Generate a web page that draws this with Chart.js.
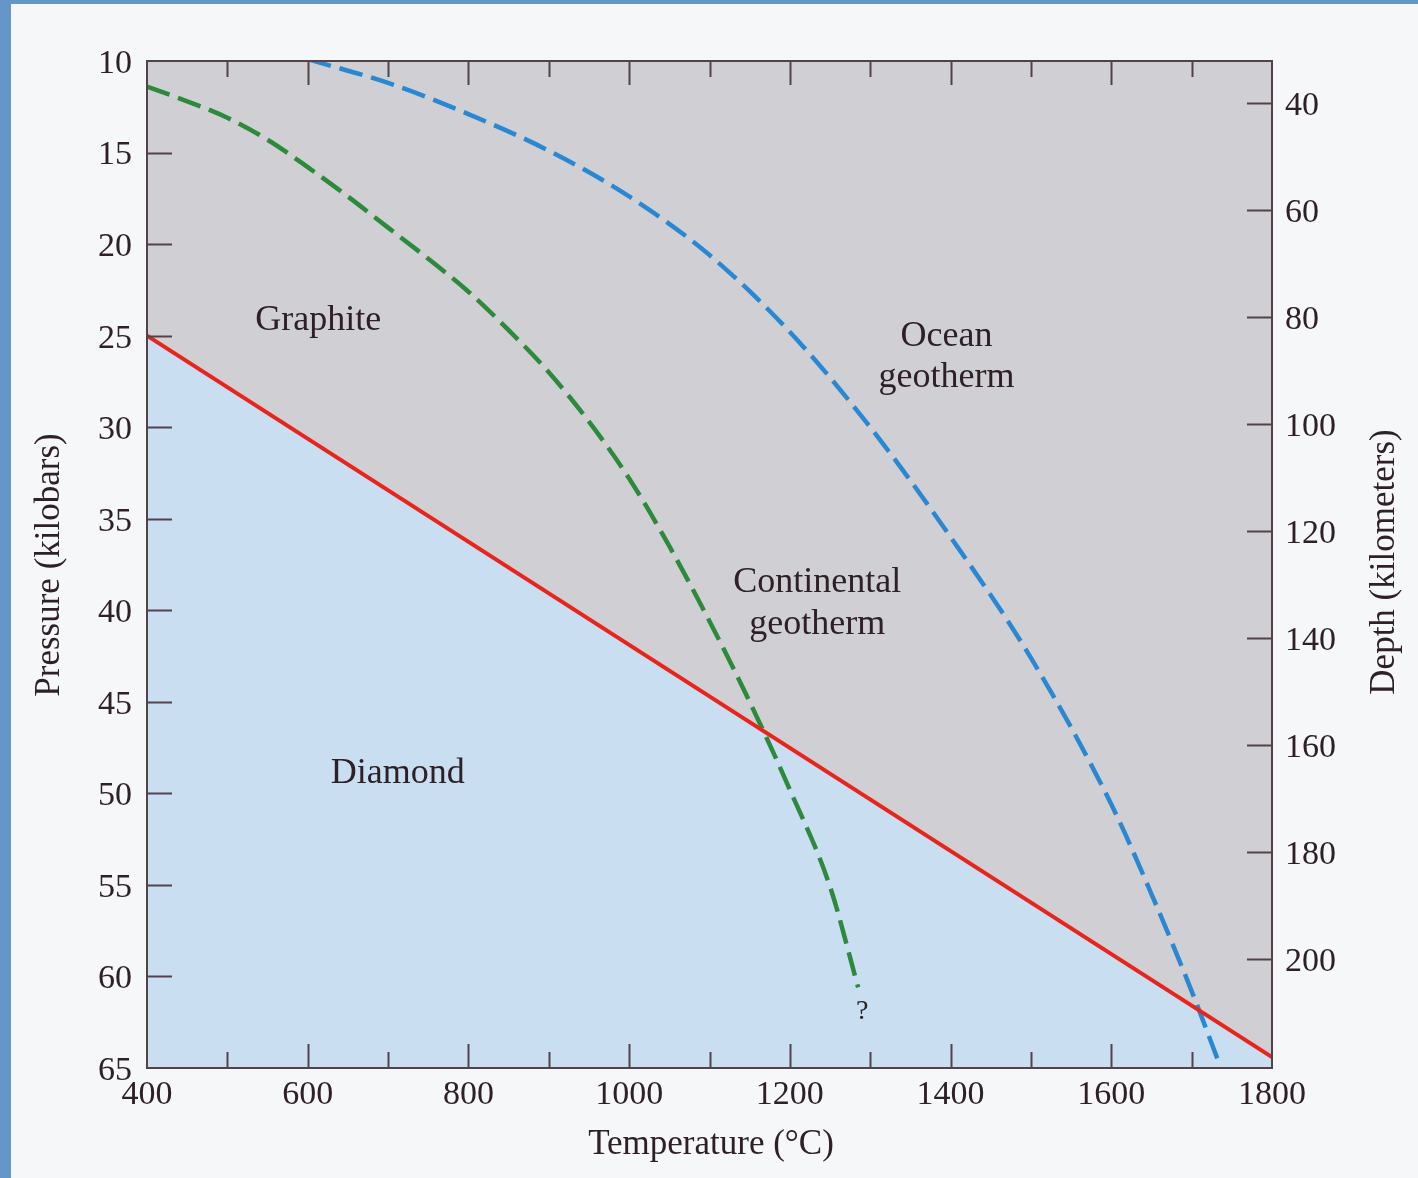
<!DOCTYPE html>
<html>
<head>
<meta charset="utf-8">
<script src="https://cdn.jsdelivr.net/npm/chart.js@4.4.0/dist/chart.umd.min.js"></script>
<style>
  html, body { margin: 0; padding: 0; background: #f6f7f9; }
  canvas { display: block; }
</style>
</head>
<body>
<canvas id="phaseChart" width="1418" height="1178"></canvas>
<script>
// axis ranges and ticks
const tempMin = 400, tempMax = 1800;
const pressureMin = 10, pressureMax = 65;
const depthMin = 32.2, depthMax = 220.4;
const pressureTicks = [10, 15, 20, 25, 30, 35, 40, 45, 50, 55, 60, 65];
const depthTicks = [40, 60, 80, 100, 120, 140, 160, 180, 200];

// graphite / diamond boundary
const boundaryT = [400, 1800];
const boundaryP = [25, 64.4];

// continental geotherm
const continentalT = [400, 450, 500, 550, 600, 650, 700, 750, 800, 850, 900, 950, 1000, 1050, 1100, 1150, 1200, 1250, 1285];
const continentalP = [11.4, 12.2, 13.1, 14.3, 15.8, 17.4, 19.1, 20.8, 22.6, 24.7, 27.0, 29.7, 32.8, 36.5, 40.6, 45.0, 49.8, 55.1, 60.6];

// ocean geotherm
const oceanT = [600, 700, 800, 900, 1000, 1100, 1200, 1300, 1400, 1500, 1600, 1650, 1700, 1733];
const oceanP = [9.9, 11.2, 12.9, 14.9, 17.4, 20.6, 24.8, 30.0, 36.0, 42.6, 50.6, 55.5, 60.8, 64.6];

// region labels (temperature, pressure)
const regionText = ['Graphite', 'Ocean', 'geotherm', 'Continental', 'geotherm', 'Diamond', '?'];
const regionT = [613, 1395, 1395, 1234, 1234, 712, 1290];
const regionP = [24.2, 25.05, 27.3, 38.5, 40.8, 48.9, 61.9];

const ink = '#2e2026';
const serif = "'Liberation Serif', 'DejaVu Serif', serif";

const toPts = (xs, ys) => xs.map((x, i) => ({ x: x, y: ys[i] }));

const decor = {
  id: 'decor',
  beforeDraw(chart) {
    const { ctx, chartArea: a } = chart;
    ctx.save();
    ctx.fillStyle = '#f6f7f9';
    ctx.fillRect(0, 0, chart.width, chart.height);
    ctx.fillStyle = '#6496c8';
    ctx.fillRect(0, 0, 11, chart.height);
    ctx.fillRect(0, 0, chart.width, 4);
    ctx.fillStyle = '#d0d0d4';
    ctx.fillRect(a.left, a.top, a.right - a.left, a.bottom - a.top);
    ctx.restore();
  },
  afterDraw(chart) {
    const { ctx, chartArea: a, scales } = chart;
    const x = scales.x, y = scales.y, yd = scales.yDepth;
    ctx.save();
    ctx.strokeStyle = '#54424a';
    ctx.lineWidth = 2;
    ctx.strokeRect(a.left, a.top, a.right - a.left, a.bottom - a.top);

    // inward tick marks
    ctx.beginPath();
    x.ticks.forEach(t => {
      if (t.value === tempMin || t.value === tempMax) return;
      const px = Math.round(x.getPixelForValue(t.value)) + 0.5;
      const len = t.value % 200 === 0 ? 24 : 16;
      ctx.moveTo(px, a.bottom); ctx.lineTo(px, a.bottom - len);
      ctx.moveTo(px, a.top); ctx.lineTo(px, a.top + len);
    });
    y.ticks.forEach(t => {
      if (t.value === pressureMin || t.value === pressureMax) return;
      const py = Math.round(y.getPixelForValue(t.value)) + 0.5;
      ctx.moveTo(a.left, py); ctx.lineTo(a.left + 25, py);
    });
    yd.ticks.forEach(t => {
      const py = Math.round(yd.getPixelForValue(t.value)) + 0.5;
      ctx.moveTo(a.right, py); ctx.lineTo(a.right - 25, py);
    });
    ctx.stroke();

    // region labels
    ctx.fillStyle = ink;
    ctx.textAlign = 'center';
    ctx.textBaseline = 'middle';
    regionText.forEach((s, i) => {
      ctx.font = (s === '?' ? '28px ' : '36px ') + serif;
      ctx.fillText(s, x.getPixelForValue(regionT[i]), y.getPixelForValue(regionP[i]));
    });

    // axis titles
    ctx.font = '35px ' + serif;
    ctx.fillText('Temperature (°C)', 711, 1145);
    ctx.save();
    ctx.translate(50, 565);
    ctx.rotate(-Math.PI / 2);
    ctx.fillText('Pressure (kilobars)', 0, 0);
    ctx.restore();
    ctx.save();
    ctx.translate(1385, 562);
    ctx.rotate(-Math.PI / 2);
    ctx.fillText('Depth (kilometers)', 0, 0);
    ctx.restore();
    ctx.restore();
  }
};

new Chart(document.getElementById('phaseChart'), {
  type: 'line',
  data: {
    datasets: [
      {
        label: 'Graphite-diamond boundary',
        data: toPts(boundaryT, boundaryP),
        borderColor: '#e8251d',
        borderWidth: 4,
        pointRadius: 0,
        fill: { value: pressureMax },
        backgroundColor: '#c9dff1'
      },
      {
        label: 'Continental geotherm',
        data: toPts(continentalT, continentalP),
        borderColor: '#2d8a3c',
        borderWidth: 4.5,
        borderDash: [24, 9],
        pointRadius: 0,
        cubicInterpolationMode: 'monotone',
        fill: false
      },
      {
        label: 'Ocean geotherm',
        data: toPts(oceanT, oceanP),
        borderColor: '#2a88d2',
        borderWidth: 4.5,
        borderDash: [24, 9],
        pointRadius: 0,
        cubicInterpolationMode: 'monotone',
        fill: false
      }
    ]
  },
  options: {
    responsive: false,
    animation: false,
    layout: { padding: { top: 61, left: 0, right: 0, bottom: 0 } },
    plugins: {
      legend: { display: false },
      tooltip: { enabled: false },
      filler: { drawTime: 'beforeDatasetsDraw' }
    },
    scales: {
      x: {
        type: 'linear',
        min: tempMin,
        max: tempMax,
        afterFit(s) { s.height = 110; },
        grid: { display: false, drawTicks: false },
        border: { display: false },
        ticks: {
          stepSize: 100,
          autoSkip: false,
          maxRotation: 0,
          padding: 7,
          color: ink,
          font: { family: serif, size: 34 },
          callback: v => (v % 200 === 0 ? String(v) : '')
        }
      },
      y: {
        type: 'linear',
        position: 'left',
        reverse: true,
        min: pressureMin,
        max: pressureMax,
        afterFit(s) { s.width = 147; },
        afterBuildTicks(s) { s.ticks = pressureTicks.map(v => ({ value: v })); },
        grid: { display: false, drawTicks: false },
        border: { display: false },
        ticks: { padding: 15, labelOffset: 3, color: ink, font: { family: serif, size: 34 } }
      },
      yDepth: {
        type: 'linear',
        position: 'right',
        reverse: true,
        min: depthMin,
        max: depthMax,
        afterFit(s) { s.width = 146; },
        afterBuildTicks(s) { s.ticks = depthTicks.map(v => ({ value: v })); },
        grid: { display: false, drawTicks: false },
        border: { display: false },
        ticks: { padding: 13, labelOffset: 3, color: ink, font: { family: serif, size: 34 } }
      }
    }
  },
  plugins: [decor]
});
</script>
</body>
</html>
